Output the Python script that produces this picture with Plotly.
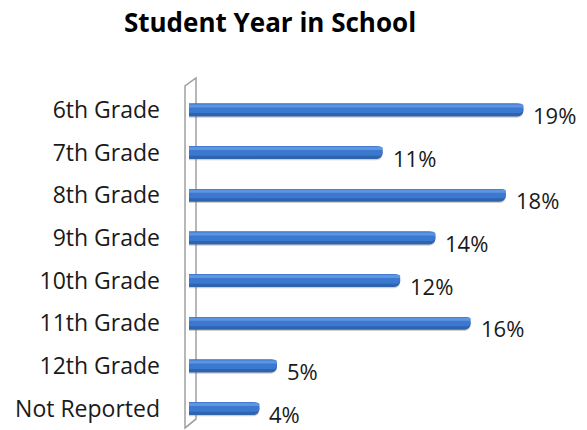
import plotly.graph_objects as go

categories = ["6th Grade", "7th Grade", "8th Grade", "9th Grade", "10th Grade",
              "11th Grade", "12th Grade", "Not Reported"]
values = [19, 11, 18, 14, 12, 16, 5, 4]
labels = [f"{v}%" for v in values]

FONT = "'Open Sans', sans-serif"
L, T = 189, 88
W, H = 587, 430
pw = W - L
ph = H - T
px_per = 17.6

fig = go.Figure()
# shadow
fig.add_trace(go.Bar(y=categories, x=values, orientation="h", width=0.30, offset=-0.12,
                     marker=dict(color="rgba(120,120,120,0.35)", cornerradius=6, line=dict(width=0)),
                     hoverinfo="skip"))
# main cylinder
fig.add_trace(go.Bar(y=categories, x=values, orientation="h", width=0.30, offset=-0.15,
                     marker=dict(color="#2f63ad", cornerradius=6, line=dict(width=0)),
                     hoverinfo="skip"))
fig.add_trace(go.Bar(y=categories, x=values, orientation="h", width=0.22, offset=-0.15,
                     marker=dict(color="#3b78cf", cornerradius=6, line=dict(width=0)),
                     hoverinfo="skip"))
fig.add_trace(go.Bar(y=categories, x=values, orientation="h", width=0.07, offset=-0.13,
                     marker=dict(color="#5f95e0", cornerradius=3, line=dict(width=0)),
                     hoverinfo="skip"))

for c, v, t in zip(categories, values, labels):
    fig.add_annotation(x=v, y=c, text=t, showarrow=False, xanchor="left", yanchor="middle",
                       xshift=8, yshift=-5, font=dict(family=FONT, size=22, color="#1a1a1a"))

def px(x):
    return (x - L) / pw

def py(y):
    return (H - y) / ph

wall = dict(type="path", xref="paper", yref="paper",
            path=f"M {px(185)} {py(428)} L {px(185)} {py(86)} L {px(196)} {py(78)} L {px(196)} {py(419)} Z",
            line=dict(color="#a0a0a0", width=1.5), fillcolor="rgba(255,255,255,0)", layer="below")
fig.add_shape(**wall)
fig.add_shape(type="line", xref="paper", yref="paper", x0=px(185), y0=py(428), x1=px(196), y1=py(419),
              line=dict(color="#a0a0a0", width=1.5), layer="below")

fig.update_layout(
    width=W, height=H,
    margin=dict(l=L, r=0, t=T, b=0),
    barmode="overlay",
    showlegend=False,
    plot_bgcolor="white", paper_bgcolor="white",
    title=dict(text="<b>Student Year in School</b>", x=270 / W, xanchor="center",
               y=1 - 23 / H, yanchor="middle",
               font=dict(family=FONT, size=26, color="#000")),
    xaxis=dict(range=[0, pw / px_per], visible=False, fixedrange=True),
    yaxis=dict(categoryorder="array", categoryarray=categories, autorange="reversed",
               showgrid=False, showline=False, zeroline=False, ticks="",
               ticklabelstandoff=28,
               tickfont=dict(family=FONT, size=23, color="#1a1a1a")),
)

fig.write_html("out.html")
